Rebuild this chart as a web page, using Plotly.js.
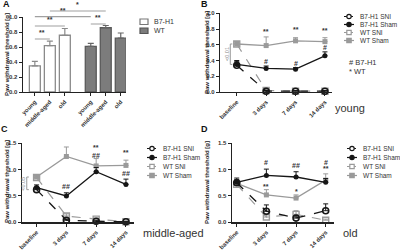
<!DOCTYPE html>
<html><head><meta charset="utf-8">
<script src="https://cdn.plot.ly/plotly-3.0.1.min.js"></script>
<style>html,body{margin:0;padding:0;background:#fff}#chart{width:400px;height:250px}</style>
</head><body><div id="chart"></div>
<script>
// ---------- data ----------
const ageGroups = ['young', 'middle-aged', 'old'];
const barB7 = [0.35, 0.62, 0.76];
const barB7Err = [0.06, 0.06, 0.09];
const barWT = [0.61, 0.86, 0.72];
const barWTErr = [0.04, 0.03, 0.07];

const timepoints = ['baseline', '3 days', '7 days', '14 days'];
const seriesNames = ['B7-H1 SNI', 'B7-H1 Sham', 'WT SNI', 'WT Sham'];

// B: young
const youngB7SNI = [0.34, 0.01, 0.01, 0.01];
const youngB7SNIErr = [0.05, 0.01, 0.01, 0.01];
const youngB7Sham = [0.35, 0.30, 0.29, 0.46];
const youngB7ShamErr = [0.05, 0.03, 0.02, 0.05];
const youngWTSNI = [0.61, 0.02, 0.01, 0.01];
const youngWTSNIErr = [0.03, 0.01, 0.01, 0.01];
const youngWTSham = [0.61, 0.59, 0.65, 0.64];
const youngWTShamErr = [0.03, 0.11, 0.04, 0.05];

// C: middle-aged
const midB7SNI = [0.62, 0.04, 0.02, 0.01];
const midB7SNIErr = [0.04, 0.02, 0.01, 0.01];
const midB7Sham = [0.66, 0.50, 0.96, 0.72];
const midB7ShamErr = [0.05, 0.06, 0.08, 0.10];
const midWTSNI = [0.85, 0.12, 0.06, 0.01];
const midWTSNIErr = [0.04, 0.04, 0.02, 0.01];
const midWTSham = [0.86, 1.25, 1.07, 1.08];
const midWTShamErr = [0.04, 0.18, 0.14, 0.10];

// D: old
const oldB7SNI = [0.75, 0.21, 0.08, 0.22];
const oldB7SNIErr = [0.06, 0.12, 0.04, 0.13];
const oldB7Sham = [0.76, 0.89, 0.86, 0.76];
const oldB7ShamErr = [0.08, 0.12, 0.10, 0.07];
const oldWTSNI = [0.72, 0.10, 0.15, 0.04];
const oldWTSNIErr = [0.04, 0.04, 0.07, 0.02];
const oldWTSham = [0.74, 0.52, 0.46, 0.80];
const oldWTShamErr = [0.05, 0.10, 0.06, 0.12];

// ---------- helpers ----------
const W = 400, H = 250;
const px = v => v / W;
const py = v => 1 - v / H;
const FONT = 'Liberation Sans, Arial, sans-serif';
const zeros = a => a.map(() => 0);
const tIdx = timepoints.map((_, i) => i);

const BLACK = '#161616', GREY = '#9a9a9a';
const styles = {
  'B7-H1 SNI': {line: {color: BLACK, dash: 'dash', width: 1.3}, marker: {symbol: 'circle-open', size: 6, color: BLACK, line: {width: 1.6, color: BLACK}}},
  'B7-H1 Sham': {line: {color: BLACK, dash: 'solid', width: 1.3}, marker: {symbol: 'circle', size: 5, color: BLACK}},
  'WT SNI': {line: {color: GREY, dash: 'dash', width: 1.2}, marker: {symbol: 'square-open', size: 6, color: GREY, line: {width: 1.4, color: GREY}}},
  'WT Sham': {line: {color: GREY, dash: 'solid', width: 1.3}, marker: {symbol: 'square', size: 5, color: GREY}}
};

const traces = [];

// ---------- panel A bars ----------
const groupOffset = 3.73;
const xB7 = ageGroups.map((_, i) => i);
const xWT = ageGroups.map((_, i) => groupOffset + i);
traces.push({type: 'bar', x: xB7, y: barB7, width: 0.73, xaxis: 'x', yaxis: 'y',
  marker: {color: '#ffffff', line: {color: '#8a8a8a', width: 1.3}},
  error_y: {type: 'data', symmetric: false, array: barB7Err, arrayminus: zeros(barB7Err), color: '#8a8a8a', thickness: 1.2, width: 3},
  showlegend: false, hoverinfo: 'none'});
traces.push({type: 'bar', x: xWT, y: barWT, width: 0.73, xaxis: 'x', yaxis: 'y',
  marker: {color: '#7c7c7c', line: {color: '#5a5a5a', width: 1.3}},
  error_y: {type: 'data', symmetric: false, array: barWTErr, arrayminus: zeros(barWTErr), color: '#666', thickness: 1.2, width: 3},
  showlegend: false, hoverinfo: 'none'});

// ---------- line panels ----------
function addPanel(xa, ya, data) {
  const order = ['WT Sham', 'WT SNI', 'B7-H1 Sham', 'B7-H1 SNI'];
  order.forEach(name => {
    const d = data[name];
    const s = styles[name];
    traces.push({type: 'scatter', mode: 'lines+markers', x: tIdx, y: d[0], xaxis: xa, yaxis: ya,
      line: s.line, marker: s.marker, cliponaxis: false,
      error_y: {type: 'data', symmetric: false, array: d[1], arrayminus: zeros(d[1]), color: s.line.color, thickness: 1, width: 2.5},
      showlegend: false, hoverinfo: 'none'});
  });
}
addPanel('x2', 'y2', {
  'B7-H1 SNI': [youngB7SNI, youngB7SNIErr], 'B7-H1 Sham': [youngB7Sham, youngB7ShamErr],
  'WT SNI': [youngWTSNI, youngWTSNIErr], 'WT Sham': [youngWTSham, youngWTShamErr]});
addPanel('x3', 'y3', {
  'B7-H1 SNI': [midB7SNI, midB7SNIErr], 'B7-H1 Sham': [midB7Sham, midB7ShamErr],
  'WT SNI': [midWTSNI, midWTSNIErr], 'WT Sham': [midWTSham, midWTShamErr]});
addPanel('x4', 'y4', {
  'B7-H1 SNI': [oldB7SNI, oldB7SNIErr], 'B7-H1 Sham': [oldB7Sham, oldB7ShamErr],
  'WT SNI': [oldWTSNI, oldWTSNIErr], 'WT Sham': [oldWTSham, oldWTShamErr]});

// ---------- axes ----------
const tickFont = {family: FONT, size: 6, color: '#333', weight: 700};
function ax(extra) {
  return Object.assign({showgrid: false, zeroline: false, showline: true, linecolor: '#222', linewidth: 1.2,
    ticks: 'outside', ticklen: 3, tickwidth: 1, tickcolor: '#222', tickfont: tickFont, fixedrange: true}, extra);
}
const tX = {tickvals: tIdx, ticktext: timepoints, tickangle: -45};
const layout = {
  width: W, height: H, margin: {l: 0, r: 0, t: 0, b: 0}, paper_bgcolor: '#fff', plot_bgcolor: 'rgba(0,0,0,0)',
  showlegend: false, bargap: 0,
  xaxis: ax({domain: [px(22.7), px(126)], range: [-0.81, 6.08], tickvals: xB7.concat(xWT), ticktext: ageGroups.concat(ageGroups), tickangle: -45, anchor: 'y'}),
  yaxis: ax({domain: [py(92), py(17.3)], range: [0, 1.0], dtick: 0.2, tickformat: '.1f', anchor: 'x'}),
  xaxis2: ax(Object.assign({domain: [px(220), px(332)], range: [-0.57, 3.24], anchor: 'y2'}, tX)),
  yaxis2: ax({domain: [py(92), py(13.3)], range: [0, 1.0], dtick: 0.2, tickformat: '.1f', anchor: 'x2'}),
  xaxis3: ax(Object.assign({domain: [px(21.7), px(134)], range: [-0.5, 3.27], anchor: 'y3'}, tX)),
  yaxis3: ax({domain: [py(222.3), py(143.3)], range: [0, 1.5], dtick: 0.5, tickformat: '.1f', anchor: 'x3'}),
  xaxis4: ax(Object.assign({domain: [px(231.7), px(334)], range: [-0.17, 3.28], anchor: 'y4'}, tX)),
  yaxis4: ax({domain: [py(222.3), py(143.3)], range: [0, 1.5], dtick: 0.5, tickformat: '.1f', anchor: 'x4'}),
  shapes: [], annotations: []
};

const ann = layout.annotations, shp = layout.shapes;
function txt(text, x, y, opts) {
  ann.push(Object.assign({text: text, x: x, y: y, xref: 'paper', yref: 'paper', showarrow: false,
    xanchor: 'center', yanchor: 'middle', font: {family: FONT, size: 7, color: '#222'}}, opts || {}));
}

// panel letters
const letF = {family: FONT, size: 9, color: '#111', weight: 700};
txt('A', px(6), py(4), {font: letF});
txt('B', px(205), py(4), {font: letF});
txt('C', px(4), py(129), {font: letF});
txt('D', px(205), py(129), {font: letF});

// y titles
const ytitle = 'Paw withdrawal threshold [g]';
const ytf = {family: FONT, size: 6, color: '#222', weight: 700};
txt(ytitle, px(7), py(55), {textangle: -90, font: ytf});
txt(ytitle, px(207), py(52), {textangle: -90, font: ytf});
txt(ytitle, px(7), py(182), {textangle: -90, font: ytf});
txt(ytitle, px(207), py(182), {textangle: -90, font: ytf});

// right-side labels
const bigF = {family: FONT, size: 11, color: '#333'};
txt('young', px(333), py(108), {xanchor: 'left', font: bigF});
txt('middle-aged', px(141), py(233), {xanchor: 'left', font: bigF});
txt('old', px(341), py(233), {xanchor: 'left', font: bigF});

// panel A legend
const legF = {family: FONT, size: 7, color: '#333'};
shp.push({type: 'rect', xref: 'paper', yref: 'paper', x0: px(140), x1: px(148), y0: py(24.5), y1: py(19), fillcolor: '#fff', line: {color: '#777', width: 1.2}});
shp.push({type: 'rect', xref: 'paper', yref: 'paper', x0: px(140), x1: px(148), y0: py(33.5), y1: py(28), fillcolor: '#7c7c7c', line: {color: '#555', width: 1.2}});
txt('B7-H1', px(152), py(21.8), {xanchor: 'left', font: legF});
txt('WT', px(152), py(30.8), {xanchor: 'left', font: legF});

// panel A significance
const sigLine = {color: '#a0a0a0', width: 1.2};
const sig = [
  ['*', 1, groupOffset + 1, 11],
  ['**', 0, groupOffset, 16.7],
  ['**', 0, 2, 26],
  ['**', 0, 1, 39],
  ['**', groupOffset, groupOffset + 1, 24]
];
sig.forEach(s => {
  shp.push({type: 'line', xref: 'x', yref: 'paper', x0: s[1], x1: s[2], y0: py(s[3]), y1: py(s[3]), line: sigLine});
  ann.push({text: s[0], xref: 'x', yref: 'paper', x: (s[1] + s[2]) / 2, y: py(s[3] - 1), yanchor: 'bottom', showarrow: false,
    font: {family: FONT, size: 7, color: '#333', weight: 700}});
});

// line-panel legends
function lineLegend(cx, rows) {
  seriesNames.forEach((name, i) => {
    const s = styles[name];
    const y = rows[i];
    shp.push({type: 'line', xref: 'paper', yref: 'paper', x0: px(cx - 5), x1: px(cx + 5), y0: py(y), y1: py(y),
      line: {color: s.line.color, width: 1.2, dash: s.line.dash === 'dash' ? 'dot' : 'solid'}});
    const open = name.indexOf('SNI') >= 0;
    shp.push({type: name.startsWith('B7') ? 'circle' : 'rect', xref: 'paper', yref: 'paper',
      x0: px(cx - 2.2), x1: px(cx + 2.2), y0: py(y + 2.2), y1: py(y - 2.2),
      fillcolor: open ? '#fff' : s.line.color, line: {color: s.line.color, width: 1.2}});
    txt(name, px(cx + 9), py(y), {xanchor: 'left', font: {family: FONT, size: 6.5, color: '#333'}});
  });
}
lineLegend(349, [16.5, 24.5, 32.5, 40.5]);
lineLegend(152, [148.5, 157.5, 166.5, 175.5]);
lineLegend(352, [148.5, 157.5, 166.5, 175.5]);
txt('# B7-H1', px(347), py(62), {xanchor: 'left', font: {family: FONT, size: 7.5, color: '#333'}});
txt('* WT', px(347), py(71), {xanchor: 'left', font: {family: FONT, size: 7.5, color: '#333'}});

// data-panel marks
function mark(text, xa, ya, x, y, size) {
  ann.push({text: text, xref: xa, yref: ya, x: x, y: y, showarrow: false, yanchor: 'middle',
    font: {family: FONT, size: size || 7, color: '#333', weight: 700}});
}
[['**', 1, 0.77], ['**', 2, 0.80], ['**', 3, 0.78], ['#', 1, 0.39], ['#', 2, 0.36], ['#', 3, 0.57]]
  .forEach(m => mark(m[0], 'x2', 'y2', m[1], m[2]));
[['**', 1, 1.52], ['**', 2, 1.42], ['**', 3, 1.33], ['##', 1, 0.68], ['##', 2, 1.27], ['##', 3, 0.93]]
  .forEach(m => mark(m[0], 'x3', 'y3', m[1], m[2]));
[['#', 1, 1.14], ['##', 2, 1.08], ['#', 3, 1.14], ['**', 3, 1.02], ['**', 1, 0.68], ['*', 2, 0.59]]
  .forEach(m => mark(m[0], 'x4', 'y4', m[1], m[2]));

// brackets
function bracket(xa, ya, x, y0, y1, label, lx) {
  const l = {color: '#999', width: 1};
  shp.push({type: 'line', xref: xa, yref: ya, x0: x, x1: x, y0: y0, y1: y1, line: l});
  shp.push({type: 'line', xref: xa, yref: ya, x0: x, x1: x + 0.07, y0: y0, y1: y0, line: l});
  shp.push({type: 'line', xref: xa, yref: ya, x0: x, x1: x + 0.07, y0: y1, y1: y1, line: l});
  ann.push({text: label, xref: xa, yref: ya, x: lx, y: (y0 + y1) / 2, textangle: -90, showarrow: false,
    font: {family: FONT, size: 5.5, color: '#888'}});
}
bracket('x2', 'y2', -0.22, youngB7Sham[0], youngWTSham[0], '&lt;0.01', -0.34);
bracket('x3', 'y3', -0.33, midB7SNI[0], midWTSham[0], '&lt;0.05', -0.44);

Plotly.newPlot('chart', traces, layout, {staticPlot: true, displayModeBar: false});
</script>
</body></html>
